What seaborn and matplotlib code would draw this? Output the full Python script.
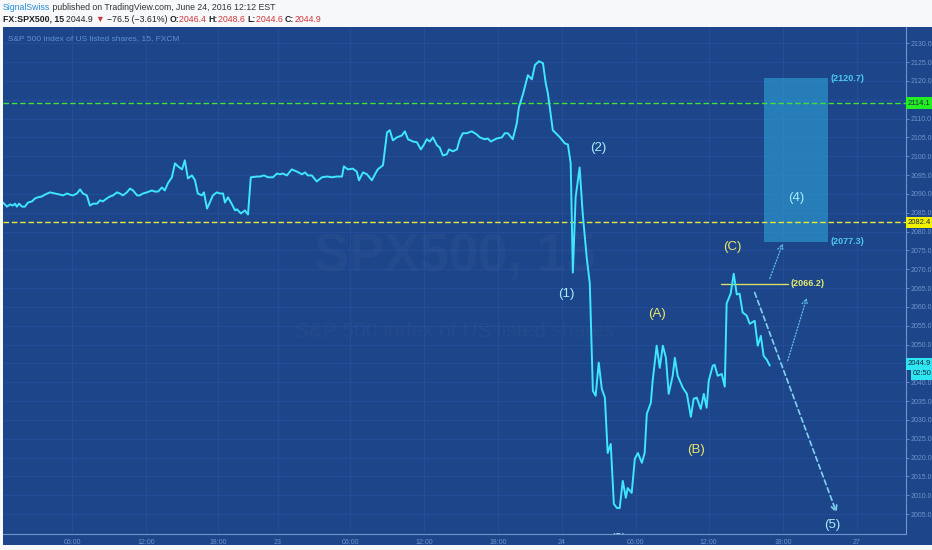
import numpy as np
import pandas as pd
import seaborn as sns
import matplotlib
matplotlib.use('Agg')
import matplotlib.pyplot as plt
from matplotlib.patches import Rectangle

# 15 minute bars (bar index) and SPX500 price
bars = [0, 1.3, 2.3, 3.2, 3.9, 4.5, 5.2, 6.2, 7.1, 8.1, 9.4, 10.4, 11.4, 12.6, 13.6, 15.2, 16.9, 18.5, 19.5, 20.8,
        21.7, 22.7, 24.0, 25.0, 25.9, 27.2, 28.2, 29.2, 30.5, 31.5, 32.4, 33.7, 34.7, 35.7, 37.0, 37.9, 38.9, 40.2,
        41.2, 42.2, 43.5, 44.4, 45.4, 46.7, 48.3, 49.3, 50.3, 51.6, 52.5, 53.5, 54.8, 55.8, 56.8, 58.1, 59.0, 60.0,
        61.3, 62.3, 63.2, 64.5, 65.2, 66.2, 67.1, 68.1, 69.4, 70.4, 71.4, 72.0, 73.0, 74.3, 75.3, 75.9, 77.2, 78.5,
        79.5, 80.4, 82.4, 83.4, 84.7, 86.0, 87.6, 88.9, 89.8, 90.8, 92.1, 93.7, 95.4, 97.0, 98.0, 98.9, 100.2, 101.8,
        103.5, 105.1, 106.7, 108.3, 110.0, 110.6, 111.9, 113.5, 114.8, 115.5, 116.8, 118.1, 119.7, 120.7, 121.6,
        123.3, 124.6, 125.5, 126.5, 127.8, 129.4, 130.4, 131.4, 133.0, 134.3, 135.6, 136.6, 137.5, 138.5, 139.5,
        140.8, 141.7, 142.7, 144.0, 144.7, 146.0, 147.3, 148.2, 149.2, 150.5, 152.1, 153.7, 154.7, 156.3, 157.3,
        158.3, 160.2, 161.9, 162.8, 163.8, 165.4, 166.7, 167.4, 168.7, 170.3, 171.6, 172.6, 173.9, 175.2, 176.1,
        176.8, 178.4, 180.7, 182.3, 183.3, 184.2, 184.9, 185.8, 187.1, 188.1, 189.4, 190.4, 191.4, 192.3, 193.3,
        194.3, 195.3, 196.2, 197.2, 198.2, 199.2, 200.1, 201.1, 202.1, 202.7, 204.0, 205.0, 206.0, 207.3, 208.2,
        208.9, 210.2, 210.8, 212.1, 213.1, 214.1, 215.1, 216.0, 217.3, 218.0, 218.9, 220.6, 221.9, 223.2, 224.1,
        225.1, 226.4, 227.4, 228.3, 229.0, 230.3, 230.9, 231.9, 233.2, 234.2, 234.8, 236.1, 237.1, 238.1, 239.0,
        240.0, 241.3, 242.3, 243.9, 244.9, 245.9, 246.8, 247.8, 248.8]
prices = [2087.7, 2086.6, 2087.2, 2086.9, 2087.4, 2086.6, 2087.4, 2086.6, 2086.6, 2087.7, 2088.0, 2088.8, 2089.1,
          2089.3, 2089.8, 2090.4, 2090.1, 2089.8, 2089.6, 2090.1, 2089.8, 2089.6, 2090.1, 2091.2, 2090.1, 2089.6,
          2086.9, 2087.4, 2087.4, 2088.3, 2088.0, 2088.8, 2089.3, 2089.6, 2090.4, 2090.1, 2089.6, 2090.4, 2091.4,
          2090.9, 2089.6, 2089.6, 2090.1, 2090.4, 2090.9, 2090.6, 2090.6, 2091.7, 2090.9, 2092.8, 2094.4, 2098.1,
          2097.3, 2096.5, 2098.9, 2094.1, 2094.9, 2093.6, 2090.1, 2089.6, 2090.4, 2086.1, 2087.7, 2089.6, 2090.4,
          2090.1, 2090.1, 2087.7, 2089.1, 2087.2, 2085.6, 2085.9, 2084.8, 2085.6, 2084.5, 2094.4, 2094.6, 2094.6,
          2094.9, 2094.4, 2094.4, 2095.4, 2095.2, 2095.4, 2094.9, 2096.5, 2095.9, 2095.2, 2095.7, 2094.9, 2094.9,
          2093.3, 2094.4, 2094.6, 2094.4, 2094.6, 2094.6, 2097.3, 2096.5, 2096.7, 2095.9, 2093.6, 2095.7, 2095.2,
          2093.6, 2095.2, 2096.5, 2097.6, 2106.3, 2106.9, 2104.2, 2105.0, 2105.5, 2106.6, 2104.5, 2103.9, 2103.7,
          2101.8, 2103.1, 2104.5, 2103.9, 2105.0, 2102.9, 2102.3, 2100.2, 2100.5, 2101.8, 2101.3, 2101.8, 2104.5,
          2106.1, 2106.1, 2106.6, 2105.8, 2105.0, 2104.5, 2104.7, 2103.9, 2104.7, 2105.0, 2106.1, 2106.1, 2104.5,
          2108.7, 2113.0, 2116.4, 2121.5, 2120.4, 2124.2, 2125.2, 2124.7, 2119.4, 2116.7, 2106.9, 2105.0, 2103.4,
          2103.1, 2098.1, 2069.1, 2089.1, 2097.0, 2084.8, 2073.1, 2066.2, 2037.7, 2036.4, 2045.2, 2038.2, 2035.9,
          2021.2, 2023.6, 2007.7, 2006.6, 2006.6, 2013.8, 2009.3, 2011.9, 2010.6, 2019.6, 2021.2, 2018.6, 2021.2,
          2031.6, 2034.5, 2040.4, 2049.7, 2043.8, 2049.7, 2046.5, 2036.9, 2041.7, 2046.5, 2041.7, 2038.5, 2036.9,
          2030.8, 2035.6, 2035.9, 2032.9, 2036.9, 2033.2, 2040.4, 2044.4, 2044.6, 2041.7, 2042.2, 2038.8, 2060.9,
          2063.5, 2068.8, 2063.3, 2063.5, 2058.5, 2057.7, 2055.5, 2056.3, 2049.7, 2052.3, 2047.0, 2046.0, 2044.4]

tick_bars = [22.4, 46.4, 69.7, 89.2, 112.6, 136.6, 160.6, 181.3, 205.3, 229.0, 253.0, 277.0]
tick_labels = ['06:00', '12:00', '18:00', '23', '06:00', '12:00', '18:00', '24', '06:00', '12:00', '18:00', '27']
y_ticks = [2005 + 5 * i for i in range(26)]
hidden_y_labels = [2045, 2115]  # covered by the price tags

green_level = 2114.1
yellow_level = 2082.4
last_price = 2044.9
last_time = '02:50'

# wave (4) target zone
zone_bars = [246.8, 267.6]
zone_prices = [2077.3, 2120.7]
c_level = 2066.2
c_bars = [232.9, 254.6]

wave_names = ['(1)', '(2)', '(3)', '(4)', '(5)']
wave_bars = [182.9, 193.0, 199.5, 257.5, 269.2]
wave_prices = [2063.5, 2102.3, 1998.4, 2088.8, 2002.1]
abc_names = ['(A)', '(B)', '(C)']
abc_bars = [212.1, 224.8, 236.8]
abc_prices = [2058.2, 2022.0, 2076.0]

BG = '#1d468a'
GRID = '#254f9b'
AXC = '#6f93cc'

sns.set_style('dark')
plt.rcParams['font.family'] = ['Liberation Sans', 'DejaVu Sans']

fig = plt.figure(figsize=(9.32, 5.5), dpi=100)
fig.patch.set_facecolor('#f6f8fa')
fig.patches.append(Rectangle((3 / 932, 5 / 550), 929 / 932, 518 / 550, transform=fig.transFigure,
                             facecolor=BG, edgecolor='none', zorder=-10))

ax = fig.add_axes([3 / 932, 16 / 550, 903 / 932, 507 / 550])
ax.set_facecolor(BG)

df = pd.DataFrame({'bar': bars, 'price': prices})

# faint watermark
ax.text(0.5, 0.545, 'SPX500, 15', transform=ax.transAxes, ha='center', va='center',
        fontsize=38, color='white', alpha=0.025, fontweight='bold')
ax.text(0.5, 0.40, 'S&P 500 index of US listed shares', transform=ax.transAxes, ha='center',
        va='center', fontsize=15, color='white', alpha=0.025)

# target zone
ax.add_patch(Rectangle((zone_bars[0], zone_prices[0]), zone_bars[1] - zone_bars[0],
                       zone_prices[1] - zone_prices[0], facecolor='#2ea3d6', alpha=0.6,
                       edgecolor='none', zorder=2))

ax.axhline(green_level, color='#3de03d', lw=1, ls=(0, (4, 2)), zorder=3)
ax.axhline(yellow_level, color='#e6e83a', lw=1, ls=(0, (4, 2)), zorder=3)

sns.lineplot(data=df, x='bar', y='price', ax=ax, color='#3ee6ff', lw=1.4,
             sort=False, estimator=None, zorder=4)

ax.plot(c_bars, [c_level, c_level], color='#d8df66', lw=1, zorder=3)
ax.text(c_bars[1] + 0.8, c_level, '(2066.2)', color='#e8ea70', fontsize=6.5, va='center',
        fontweight='bold')
ax.text(zone_bars[1] + 0.8, zone_prices[1], '(2120.7)', color='#4cc8f0', fontsize=6.5,
        va='center', fontweight='bold')
ax.text(zone_bars[1] + 0.8, zone_prices[0], '(2077.3)', color='#4cc8f0', fontsize=6.5,
        va='center', fontweight='bold')

# projection arrows
ax.annotate('', xy=(270.5, 2005.3), xytext=(243.9, 2063.8),
            arrowprops=dict(arrowstyle='->', ls=(0, (3, 2)), color='#7fd2f2', lw=1.2,
                            shrinkA=0, shrinkB=0))
ax.annotate('', xy=(260.8, 2062.4), xytext=(254.6, 2045.7),
            arrowprops=dict(arrowstyle='->', ls=(0, (1, 1.5)), color='#5fc0e8', lw=0.9,
                            shrinkA=0, shrinkB=0))
ax.annotate('', xy=(253.0, 2076.8), xytext=(248.8, 2067.5),
            arrowprops=dict(arrowstyle='->', ls=(0, (1, 1.5)), color='#5fc0e8', lw=0.9,
                            shrinkA=0, shrinkB=0))

for n, b, p in zip(wave_names, wave_bars, wave_prices):
    ax.text(b, p, n, color='#a8ecfb', fontsize=9.5, ha='center', va='center', clip_on=True)
for n, b, p in zip(abc_names, abc_bars, abc_prices):
    ax.text(b, p, n, color='#ece66a', fontsize=9.5, ha='center', va='center')

ax.set_xlim(0, 293)
ax.set_ylim(1999.7, 2134.3)
ax.set_xticks(tick_bars)
ax.set_xticklabels(tick_labels)
ax.set_yticks(y_ticks)
ax.set_yticklabels(['' if v in hidden_y_labels else f'{v:.1f}' for v in y_ticks])
ax.yaxis.tick_right()
ax.tick_params(axis='both', colors=AXC, labelsize=5, length=2, width=0.6, pad=1.5)
ax.grid(True, color=GRID, lw=0.6)
ax.set_axisbelow(True)
ax.set_xlabel('')
ax.set_ylabel('')
for s in ['top', 'left']:
    ax.spines[s].set_visible(False)
for s in ['bottom', 'right']:
    ax.spines[s].set_visible(True)
    ax.spines[s].set_color(AXC)
    ax.spines[s].set_linewidth(0.8)

# price scale labels
yx = ax.get_yaxis_transform()
for val, fc in [(green_level, '#22ee22'), (yellow_level, '#f2f200'), (last_price, '#2ee6f2')]:
    ax.text(1.002, val, f'{val:.1f}', transform=yx, fontsize=5.5, color='#1a2a40', va='center',
            ha='left', bbox=dict(boxstyle='square,pad=0.3', fc=fc, ec='none'), clip_on=False)
ax.text(1.008, last_price - 2.7, last_time, transform=yx, fontsize=5.5, color='#1a2a40',
        va='center', ha='left', bbox=dict(boxstyle='square,pad=0.3', fc='#2ee6f2', ec='none'),
        clip_on=False)

ax.text(0.006, 0.985, 'S&P 500 index of US listed shares, 15, FXCM', transform=ax.transAxes,
        color='#5d8fd6', fontsize=6, va='top')

# header, pieces laid out one after another
red = '#d2343a'
dark = '#222222'
line1 = [('SignalSwiss', '#2b8fd6', 'normal'),
         (' published on TradingView.com, June 24, 2016 12:12 EST', '#333333', 'normal')]
line2 = [('FX:SPX500, 15 ', dark, 'bold'), ('2044.9 ', dark, 'normal'), ('▼ ', red, 'normal'),
         ('−76.5 (−3.61%) ', dark, 'normal'), ('O:', dark, 'bold'), ('2046.4 ', red, 'normal'),
         ('H:', dark, 'bold'), ('2048.6 ', red, 'normal'), ('L:', dark, 'bold'),
         ('2044.6 ', red, 'normal'), ('C:', dark, 'bold'), ('2044.9', red, 'normal')]
renderer = fig.canvas.get_renderer()
for line, ypx in [(line1, 7), (line2, 19)]:
    xpx = 3
    for t, c, w in line:
        txt = fig.text(xpx / 932, (550 - ypx) / 550, t, color=c, fontsize=6.3, fontweight=w,
                       va='center', ha='left')
        xpx = txt.get_window_extent(renderer).x1

fig.savefig('out.png', dpi=100, facecolor=fig.get_facecolor())
